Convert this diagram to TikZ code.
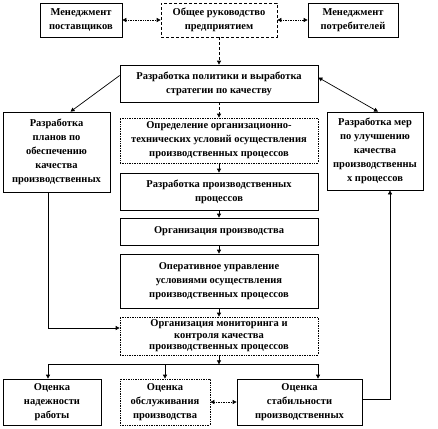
\documentclass[tikz,border=0pt]{standalone}
\usepackage{fontspec}
\setmainfont{Liberation Serif}
\usetikzlibrary{arrows.meta,positioning,calc}
\tikzset{
  >={Triangle[length=4pt,width=4pt]},
  blk/.style={draw=black,fill=white,line width=0.7pt,align=center,inner sep=1pt,
    font=\fontsize{10.5}{14}\selectfont\bfseries},
  dblk/.style={blk,densely dotted},
  flow/.style={->,line width=0.7pt},
  dflow/.style={<->,densely dotted,line width=0.7pt},
}

\begin{document}
\begin{tikzpicture}[x=1pt,y=-1pt]
  \useasboundingbox (0,0) rectangle (438,428);
  % top row
  \node[blk,minimum width=82pt,minimum height=34pt] (msup) at (81,20) {Менеджмент\\поставщиков};
  \node[blk,densely dashed,minimum width=116pt,minimum height=34pt] (gen) at (219,20) {Общее руководство\\предприятием};
  \node[blk,minimum width=90pt,minimum height=34pt] (mcons) at (353,20) {Менеджмент\\потребителей};
  % policy
  \node[blk,minimum width=198pt,minimum height=37pt] (pol) at (219,83.5) {Разработка политики и выработка\\стратегии по качеству};
  % side boxes
  \node[blk,minimum width=107pt,minimum height=80pt] (plan) at (56.5,152) {Разработка\\планов по\\обеспечению\\качества\\производственных};
  \node[blk,minimum width=96pt,minimum height=78pt] (impr) at (375,151) {Разработка мер\\по улучшению\\качества\\производственны\\х процессов};
  % central column
  \node[dblk,minimum width=198pt,minimum height=45pt] (cond) at (219,140.5) {Определение организационно-\\технических условий осуществления\\производственных процессов};
  \node[blk,minimum width=198pt,minimum height=37pt] (proc) at (219,191.5) {Разработка производственных\\процессов};
  \node[blk,minimum width=198pt,minimum height=27pt] (org) at (219,231.5) {Организация производства};
  \node[blk,minimum width=198pt,minimum height=54pt] (oper) at (219,281) {Оперативное управление\\условиями осуществления\\производственных процессов};
  \node[dblk,minimum width=198pt,minimum height=38pt,font=\fontsize{10.5}{11.5}\selectfont\bfseries] (mon) at (219,336) {Организация мониторинга и\\контроля качества\\производственных процессов};
  % bottom row
  \node[blk,minimum width=98pt,minimum height=46pt] (rel) at (52,402) {Оценка\\надежности\\работы};
  \node[dblk,minimum width=90pt,minimum height=46pt] (serv) at (165,402) {Оценка\\обслуживания\\производства};
  \node[blk,minimum width=125pt,minimum height=46pt] (stab) at (299.5,402) {Оценка\\стабильности\\производственных};

  % connectors
  \draw[dflow] (msup) -- (gen);
  \draw[dflow] (gen) -- (mcons);
  \draw[flow,densely dashed] (gen) -- (pol);
  \draw[flow] ([yshift=8pt]pol.west) -- ([xshift=14pt]plan.north);
  \draw[<->,line width=0.7pt] ([yshift=6pt]pol.east) -- ([xshift=3pt]impr.north);
  \draw[flow,densely dashed] (pol) -- (cond);
  \draw[flow] (cond) -- (proc);
  \draw[flow] (proc) -- (org);
  \draw[flow] (org) -- (oper);
  \draw[flow] (oper) -- (mon);
  \draw[flow] ([xshift=-8.5pt]plan.south) |- ([yshift=8pt]mon.west);
  \coordinate (bus) at ($(mon.south)+(0,9)$);
  \draw[flow] (mon) -- (bus);
  \draw[flow] (bus) -| ([xshift=-4pt]rel.north);
  \draw[flow] (bus) -| (serv.north);
  \draw[flow] (bus) -| ([xshift=18.5pt]stab.north);
  \draw[dflow] (serv) -- (stab);
  \draw[flow] ([yshift=3pt]stab.east) -| ([xshift=15pt]impr.south);
\end{tikzpicture}
\end{document}
